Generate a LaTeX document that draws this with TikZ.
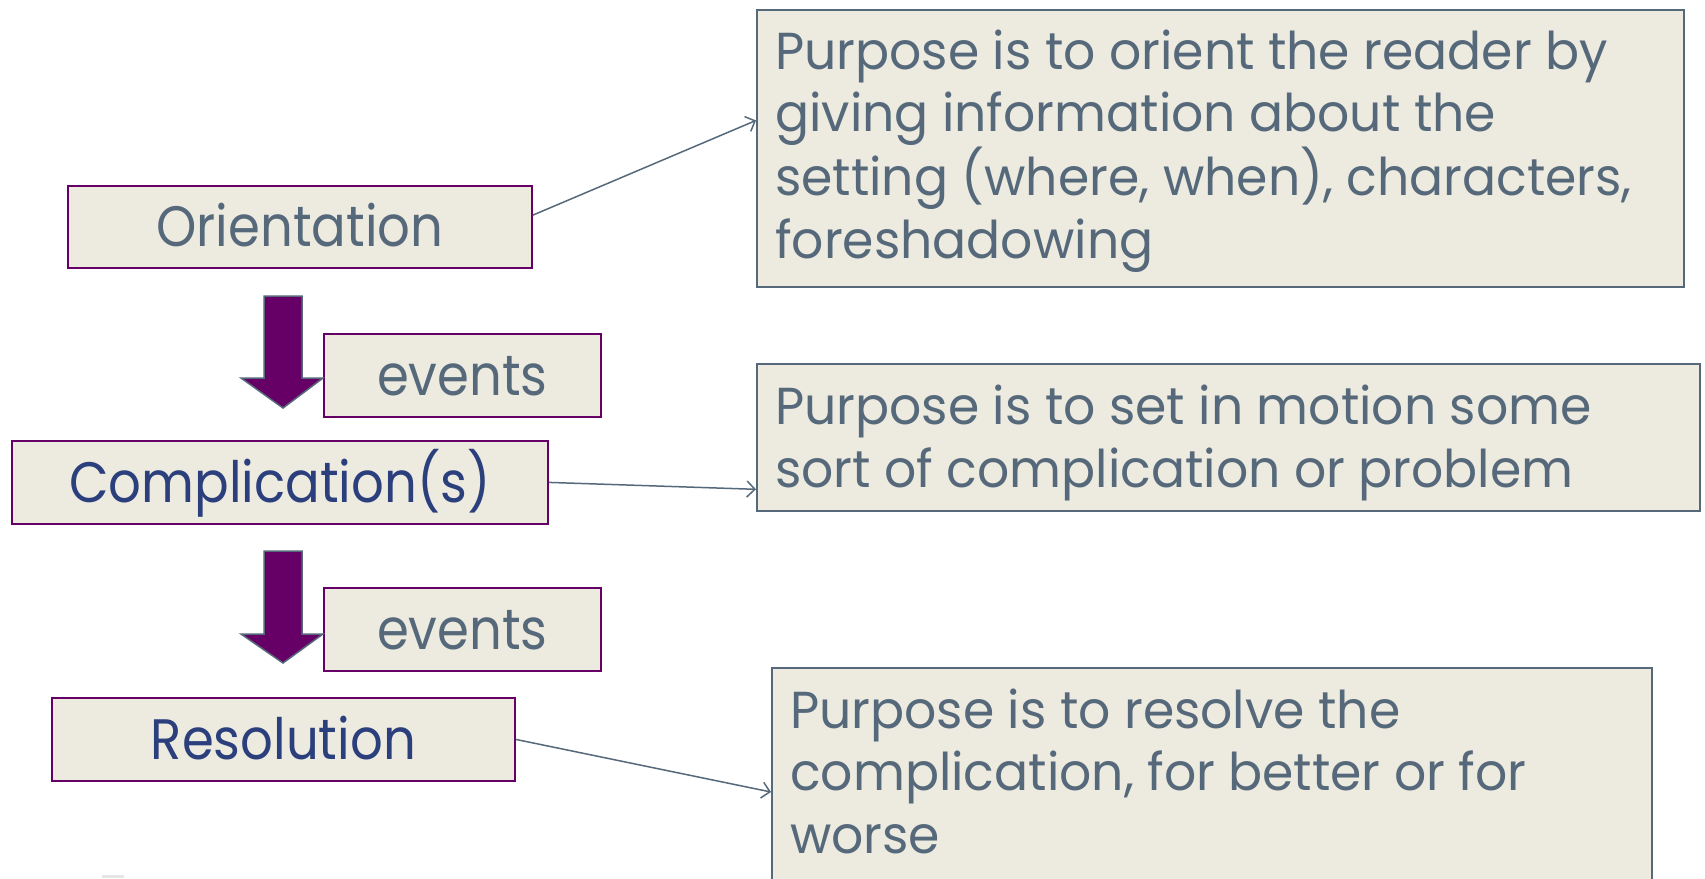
\documentclass[tikz,border=0pt]{standalone}
\usepackage{fontspec}
\setmainfont[FakeStretch=0.9]{Poppins}
\newfontfamily\pfont[FakeStretch=0.97]{Poppins}
\usetikzlibrary{arrows.meta,calc}
\definecolor{boxfill}{HTML}{EDEAE0}
\definecolor{purp}{HTML}{660066}
\definecolor{slate}{HTML}{56697B}
\definecolor{navy}{HTML}{2B3F7C}
\begin{document}
\begin{tikzpicture}[x=1pt,y=-1pt,
  lbox/.style={draw=purp,line width=1.8pt,fill=boxfill,anchor=north west,inner sep=0pt,
     font=\fontsize{57}{60}\selectfont,text height=40pt,text depth=0pt},
  pbox/.style={draw=slate,line width=1.6pt,fill=boxfill,anchor=north west,inner sep=0pt},
  ptext/.style={anchor=base west,inner sep=0pt,align=left,text=slate,
     font=\pfont\fontsize{52}{62.5}\selectfont},
  conn/.style={draw=slate,line width=1.5pt,-{Straight Barb[length=8pt,width=16pt,line width=1.5pt]}},
  bigarrow/.style={fill=purp,draw=slate,line width=1.5pt,line join=miter}
]
\useasboundingbox (0,0) rectangle (1705,878);
\fill[white] (0,0) rectangle (1705,878);

% left boxes
\node[lbox,minimum width=464pt,minimum height=82pt,text=slate] (or) at (67,185) {Orientation};
\node[lbox,minimum width=277pt,minimum height=83pt,text=slate] (ev1) at (323,333) {events};
\node[lbox,minimum width=536pt,minimum height=83pt,text=navy] (co) at (11,440) {Complication(s)};
\node[lbox,minimum width=277pt,minimum height=83pt,text=slate] (ev2) at (323,587) {events};
\node[lbox,minimum width=463pt,minimum height=83pt,text=navy] (re) at (51,697) {Resolution};

% big down arrows
\draw[bigarrow] (264,296) -- (302,296) -- (302,378) -- (323,378) -- (283,408) -- (241,378) -- (264,378) -- cycle;
\draw[bigarrow] (264,551) -- (302,551) -- (302,634) -- (323,634) -- (283,663) -- (241,634) -- (264,634) -- cycle;

% purpose boxes
\node[pbox,minimum width=927pt,minimum height=277pt] (p1) at (756,9) {};
\node[pbox,minimum width=943pt,minimum height=147pt] (p2) at (756,363) {};
\node[pbox,minimum width=880pt,minimum height=240pt] (p3) at (771,667) {};

\node[ptext] (t1) at (775,258) {Purpose is to orient the reader by\\giving information about the\\setting (where, when), characters,\\foreshadowing};
\node[ptext] (t2) at (775,487) {Purpose is to set in motion some\\sort of complication or problem};
\node[ptext] (t3) at (790,853) {Purpose is to resolve the\\complication, for better or for\\worse};

% connectors
\draw[conn] ($(or.north east)!0.36!(or.south east)$) -- ($(p1.north west)!0.40!(p1.south west)$);
\draw[conn] (co.east) -- ($(p2.north west)!0.85!(p2.south west)$);
\draw[conn] (re.east) -- ($(p3.north west)+(0,125)$);

% small mark at bottom
\fill[gray!20] (102,875) rectangle (124,878);
\end{tikzpicture}
\end{document}
